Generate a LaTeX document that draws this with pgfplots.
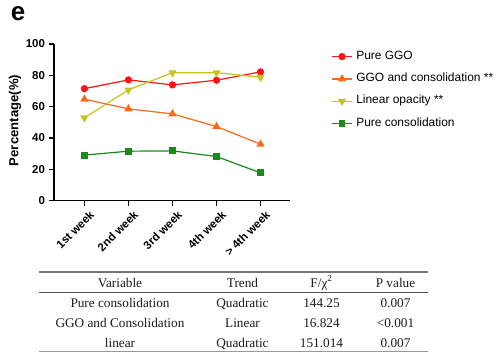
\documentclass[border=0pt]{standalone}
\usepackage{pgfplots}
\pgfplotsset{compat=1.18}
\usepackage{fontspec}
\setmainfont{Liberation Sans}
\newfontfamily\serif{Liberation Serif}
\definecolor{cRed}{HTML}{FF1414}
\definecolor{cOrange}{HTML}{FF6A1A}
\definecolor{cYellow}{HTML}{C4C41C}
\definecolor{cGreen}{HTML}{1A8A1A}
\definecolor{txt}{HTML}{1A1A1A}
\begin{document}
\begin{tikzpicture}
\useasboundingbox (0bp,0bp) rectangle (498bp,-352bp);
\node[font=\bfseries\fontsize{26}{26}\selectfont] at (18bp,-14bp) {e};
\begin{axis}[
  at={(54bp,-200.7bp)}, anchor=south west,
  scale only axis, width=236bp, height=156.7bp,
  xmin=-0.69, xmax=4.67, ymin=0, ymax=100,
  axis lines=left, axis line style={-, line width=1.4bp, black},
  xtick={0,1,2,3,4},
  xticklabels={1st week,2nd week,3rd week,4th week,> 4th week},
  ytick={0,20,40,60,80,100},
  tick align=outside, major tick length=5.5bp,
  tick style={line width=1.3bp, black},
  /pgf/number format/assume math mode=true,
  ticklabel style={font=\bfseries\fontsize{11.5}{12}\selectfont},
  x tick label style={rotate=45, anchor=north east, inner sep=1.5bp, yshift=-4bp, xshift=2.5bp},
  ylabel={Percentage(\%)},
  ylabel style={font=\bfseries\fontsize{13.2}{14}\selectfont, at={(axis description cs:-0.165,0.512)}, anchor=center},
  legend style={at={(axis description cs:1.161,0.975)}, anchor=north west, draw=none, fill=none,
    font=\fontsize{12}{12}\selectfont, row sep=9.3bp, column sep=3bp,
    nodes={inner sep=0.5bp, text height=8.6bp, text depth=3.4bp}},
  legend cell align=left,
  legend image code/.code={\draw[mark repeat=2,mark phase=2] plot coordinates {(0cm,0cm) (0.36cm,0cm) (0.72cm,0cm)};},
  every axis plot/.append style={line width=1.2bp},
  clip=false,
]
\addplot[color=cRed, mark=*, mark size=3bp] coordinates {(0,71.5) (1,77.1) (2,73.9) (3,76.9) (4,82.2)};
\addlegendentry{Pure GGO}
\addplot[color=cOrange, mark=triangle*, mark size=3.6bp] coordinates {(0,64.8) (1,58.6) (2,55.4) (3,47.3) (4,36.1)};
\addlegendentry{GGO and consolidation **}
\addplot[color=cYellow, mark=triangle*, mark size=3.6bp, mark options={rotate=180}] coordinates {(0,52.9) (1,70.7) (2,81.7) (3,81.7) (4,78.8)};
\addlegendentry{Linear opacity **}
\addplot[color=cGreen, mark=square*, mark size=2.8bp] coordinates {(0,29.1) (1,31.6) (2,31.8) (3,28.2) (4,17.8)};
\addlegendentry{Pure consolidation}
\end{axis}
% table
\draw[line width=1.4bp, black!55] (39bp,-272bp) -- (428bp,-272bp);
\draw[line width=0.9bp, black!70] (39bp,-292.5bp) -- (428bp,-292.5bp);
\draw[line width=0.9bp, black!40] (39bp,-351.5bp) -- (428bp,-351.5bp);
\begin{scope}[every node/.style={font=\serif\fontsize{13.3}{14}\selectfont, text=txt, anchor=base, inner sep=0}]
\node at (120bp,-287bp) {Variable};
\node at (242.5bp,-287bp) {Trend};
\node at (321.5bp,-287bp) {F/χ\textsuperscript{2}};
\node at (395.5bp,-287bp) {P value};
\node at (120bp,-307.5bp) {Pure consolidation};
\node at (242.5bp,-307.5bp) {Quadratic};
\node at (321.5bp,-307.5bp) {144.25};
\node at (395.5bp,-307.5bp) {0.007};
\node at (120bp,-327.5bp) {GGO and Consolidation};
\node at (242.5bp,-327.5bp) {Linear};
\node at (321.5bp,-327.5bp) {16.824};
\node at (395.5bp,-327.5bp) {<0.001};
\node at (120bp,-347bp) {linear};
\node at (242.5bp,-347bp) {Quadratic};
\node at (321.5bp,-347bp) {151.014};
\node at (395.5bp,-347bp) {0.007};
\end{scope}
\end{tikzpicture}
\end{document}
